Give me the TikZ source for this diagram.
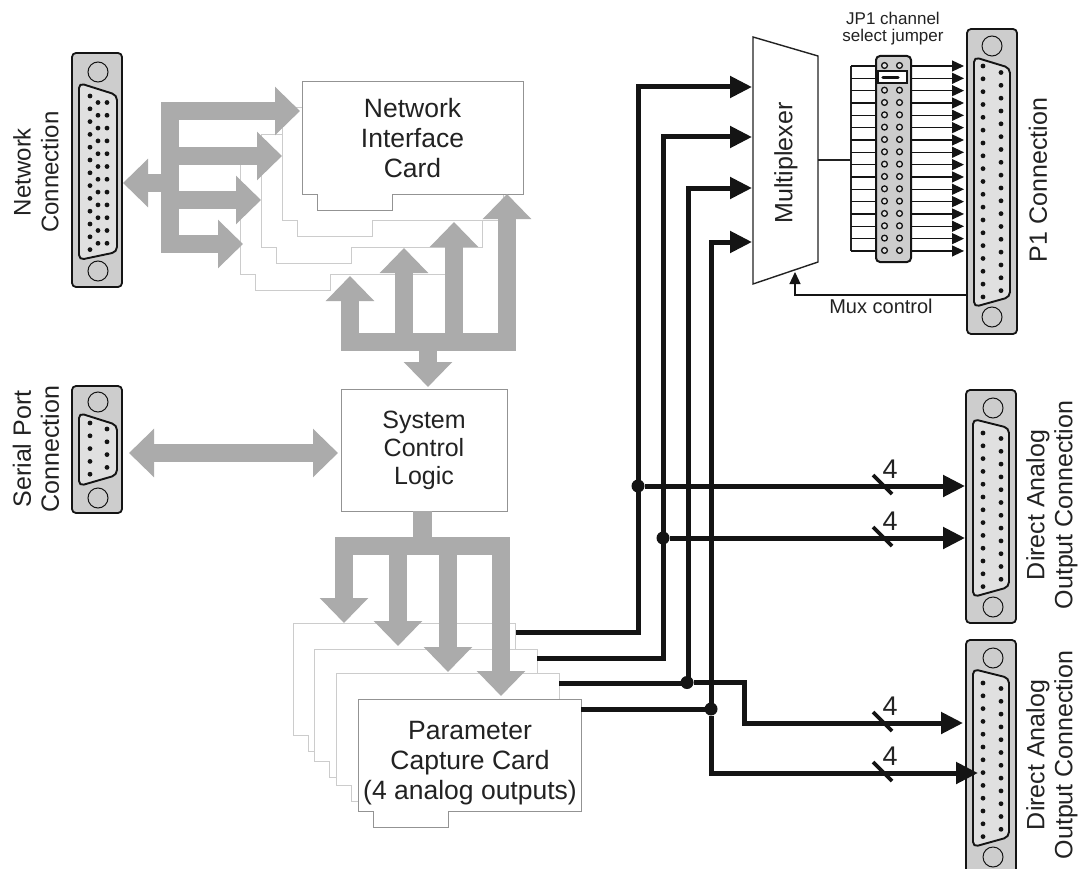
\documentclass[tikz,border=0pt]{standalone}
\usepackage{fontspec}
\setmainfont{Liberation Sans}
\usetikzlibrary{arrows.meta}
\definecolor{busgray}{HTML}{ABABAB}
\definecolor{ink}{HTML}{141414}
\definecolor{txt}{HTML}{222222}
\definecolor{shellgray}{HTML}{CDCDCD}
\definecolor{dgray}{HTML}{E0E0E0}
\tikzset{
  bus/.style={draw=busgray,line width=18.5pt,line join=miter,line cap=butt},
  bushead/.style={-{Triangle[length=25pt,width=47pt]}},
  bushead2/.style={{Triangle[length=25pt,width=47pt]}-{Triangle[length=25pt,width=47pt]}},
  sig/.style={draw=ink,line width=5pt,line join=miter},
  sighead/.style={-{Triangle[length=22pt,width=21pt]}},
  thin arrow/.style={draw=ink,line width=1.2pt,-{Triangle[length=12pt,width=11pt]}},
  thinline/.style={draw=txt,line width=1.2pt},
  junction/.style={circle,fill=ink,inner sep=0pt,minimum size=13pt},
  cardfront/.style={draw=gray!85,fill=white,line width=1pt},
  cardback/.style={draw=black!20,fill=white,line width=1pt},
  shellbox/.style={draw=ink,fill=shellgray,line width=1.8pt,rounded corners=4pt,inner sep=0pt},
  dshape/.style={draw=ink,fill=dgray,line width=1.9pt,rounded corners=5pt},
  hole/.style={draw=ink,line width=1pt},
  pin/.style={fill=ink},
  label/.style={text=txt,inner sep=0pt,align=center},
  lab26/.style={label,font=\fontsize{26.5}{30}\selectfont},
  rot25/.style={label,rotate=90,font=\fontsize{25}{28}\selectfont},
  rot24/.style={label,rotate=90,font=\fontsize{24}{27.7}\selectfont},
}
% card outline, origin at its top-left corner
\newcommand{\cardpoly}[4]{% style, x, y, width
  \path[#1,shift={(#2,#3)}] (0,0) -- (#4,0) -- (#4,112) -- (90,112) -- (90,128) -- (15,128) -- (15,112) -- (0,112) -- cycle;}
\newcommand{\dsub}[6]{% xl xr ytl ytr ybr ybl
  \path[dshape] (#1,#3) -- (#2,#4) -- (#2,#5) -- (#1,#6) -- cycle;}
\newcommand{\holes}[3]{\draw[hole] (#1,#2) circle (10pt); \draw[hole] (#1,#3) circle (10pt);}
\newcommand{\pinrow}[4]{% x ystart step n
  \foreach \k in {1,...,#4} {\fill[pin] (#1,{#2+(\k-1)*#3}) circle (2.4pt);}}
\begin{document}
\begin{tikzpicture}[x=1pt,y=-1pt]
\clip (0,0) rectangle (1091,869);
\fill[white] (0,0) rectangle (1091,869);

% ---- network card stack
\cardpoly{cardback}{240}{162}{221}
\cardpoly{cardback}{261}{135}{221}
\cardpoly{cardback}{282}{108}{221}
\cardpoly{cardfront}{302}{82}{221}
\node[lab26] (nic) at (412.5,138) {Network\\Interface\\Card};

% ---- parameter capture card stack
\cardpoly{cardback}{293}{623}{222}
\cardpoly{cardback}{314}{649}{223}
\cardpoly{cardback}{336}{673}{223}
\cardpoly{cardfront}{358}{699}{223}
\node[lab26] (pcc) at (470,763) {Parameter\\Capture Card\\(4 analog outputs)};

% ---- system logic
\node[draw=gray!85,fill=white,line width=1pt,minimum width=166pt,minimum height=122pt,inner sep=0pt,label,font=\fontsize{25}{28}\selectfont] (scl) at (424,450) {System\\Control\\Logic};

% ---- multiplexer
\draw[draw=txt,fill=white,line width=1.4pt] (753,37) -- (818,56) -- (818,262) -- (753,284) -- cycle;
\node[rot25] (mux) at (786,163) {Multiplexer};

% ---- coordinates
\foreach \n/\x/\y in {
  nb1/170/111, nb2/170/156, nb3/170/200, nb4/170/244, nbm/170/183,
  nict1/300/111, nict2/282/156, nict3/261/200, nict4/243/244, netpt/123/183,
  ub1/350/342, ub2/404/342, ub3/454/342, ub4/507/342, ubm/428/342,
  ut1/350/276, ut2/404/248, ut3/454/222, ut4/507/194, utm/428/387,
  lstem/422.5/511, lm/422.5/546, lb1/344/546, lb2/398/546, lb3/448/546, lb4/501/546,
  lt1/344/623, lt2/398/646, lt3/448/672, lt4/501/696,
  sert/129/453, sclt/338/453,
  o1/516/632, o2/537/658, o3/559/683, o4/581/709,
  m1/752/87, m2/752/137, m3/752/188, m4/752/242,
  d1/965/486, d2/965/538, d3/963/723, d4/978/773,
  muxout/818/160, fanc/851/160, fant/851/66, fanb/851/251,
  ctl/967/295, ctlt/795/272}
  {\coordinate (\n) at (\x,\y);}

% ---- buses
\draw[bus,bushead2] (nict1) -| (nb1 |- nict4) -- (nict4);
\draw[bus,bushead] (nb2) -- (nict2);
\draw[bus,bushead] (nb3) -- (nict3);
\draw[bus,bushead] (nbm) -- (netpt);
\draw[bus,bushead2] (ut1) -- (ub1) -- (ub4) -- (ut4);
\draw[bus,bushead] (ub2) -- (ut2);
\draw[bus,bushead] (ub3) -- (ut3);
\draw[bus,bushead] (ubm) -- (utm);
\draw[bus,bushead2] (sert) -- (sclt);
\draw[bus] (lstem) -- (lm);
\draw[bus,bushead2] (lt1) -- (lb1) -- (lb4) -- (lt4);
\draw[bus,bushead] (lb2) -- (lt2);
\draw[bus,bushead] (lb3) -- (lt3);

% ---- connector shells
\node[shellbox,minimum width=50pt,minimum height=234pt] (net) at (97,170) {};
\holes{98}{72}{271}
\dsub{79}{117}{83}{95}{252}{260}
\pinrow{90}{96}{12.8}{13}
\pinrow{98}{102.5}{12.8}{12}
\pinrow{107}{102.5}{12.8}{12}
\node[rot24] (netlab) at (36,172) {Network\\Connection};

\node[shellbox,minimum width=50pt,minimum height=127pt] (ser) at (97,449.5) {};
\holes{98}{402}{498}
\dsub{79}{117}{413}{425}{475}{486}
\pinrow{90}{423}{12.8}{5}
\pinrow{107}{429}{12.8}{4}
\node[rot25] (serlab) at (36,449) {Serial Port\\Connection};

\node[shellbox,minimum width=50pt,minimum height=305pt] (p1) at (992,181.5) {};
\holes{992}{46}{317}
\dsub{974}{1010}{57}{68}{297}{307}
\pinrow{983}{66}{12.83}{19}
\pinrow{1001}{72.5}{12.83}{18}
\node[rot25] (p1lab) at (1038,180) {P1 Connection};

\node[shellbox,minimum width=50pt,minimum height=233pt] (a1) at (991,506.5) {};
\holes{993}{408}{607}
\dsub{973}{1009}{419}{428}{587}{597}
\pinrow{983}{433}{12.8}{13}
\pinrow{1001}{438.5}{12.8}{12}
\node[rot25] (a1lab) at (1052,505) {Direct Analog\\Output Connection};

\node[shellbox,minimum width=50pt,minimum height=233pt] (a2) at (991,756.5) {};
\holes{993}{658}{857}
\dsub{973}{1009}{669}{678}{837}{847}
\pinrow{983}{683}{12.8}{13}
\pinrow{1001}{688.5}{12.8}{12}
\node[rot25] (a2lab) at (1052,755) {Direct Analog\\Output Connection};

% ---- analog signal lines
\draw[sig,sighead] (o1) -| (638,87) -- (m1);
\draw[sig,sighead] (o2) -| (663,137) -- (m2);
\draw[sig,sighead] (o3) -| (688,188) -- (m3);
\draw[sig,sighead] (o4) -| (711,242) -- (m4);
\node[junction] (j1) at (638,486) {};
\node[junction] (j2) at (663,538) {};
\node[junction] (j3) at (687,682.5) {};
\node[junction] (j4) at (711,709) {};
\draw[sig,sighead] (j1) -- (d1);
\draw[sig,sighead] (j2) -- (d2);
\draw[sig,sighead] (j3) -| (744,723) -- (d3);
\draw[sig,sighead] (j4) |- (d4);
% bus-width slashes
\foreach \sy/\nm in {486/s1,538/s2,723/s3,773/s4} {
  \draw[draw=ink,line width=3.6pt] (873,\sy-11) -- (892,\sy+8);
  \node[label,font=\fontsize{27}{27}\selectfont,anchor=base] (\nm) at (890,\sy-8) {4};
}

% ---- P1 fan-out
\draw[thinline] (muxout) -- (fanc);
\draw[thinline] (fant) -- (fanb);
\foreach \i in {0,...,15} {
  \coordinate (fs\i) at (851,{66+\i*12.33});
  \coordinate (ft\i) at (964,{66+\i*12.33});
  \draw[thin arrow] (fs\i) -- (ft\i);
}
% jumper header
\node[draw=ink,fill=shellgray,line width=2pt,rounded corners=4pt,minimum width=35pt,minimum height=206pt,inner sep=0pt] (jp) at (893.5,159) {};
\foreach \i in {0,2,3,...,15} {
  \draw[draw=ink,fill=dgray,line width=1.3pt] (884.5,{65.5+\i*12.33}) circle (2.9pt);
  \draw[draw=ink,fill=dgray,line width=1.3pt] (899.5,{65.5+\i*12.33}) circle (2.9pt);
}
\draw[draw=ink,fill=white,line width=1.8pt] (878,71) rectangle (907,83);
\draw[draw=ink,line width=3.2pt,line cap=round] (883,77.5) -- (898,77.5);
\node[label,font=\fontsize{17}{17}\selectfont] (jplab) at (893,29) {JP1 channel\\select jumper};

% ---- mux control
\draw[thin arrow] (ctl) -| (ctlt);
\node[label,font=\fontsize{20}{20}\selectfont] (muxlab) at (881,306) {Mux control};
\end{tikzpicture}
\end{document}
